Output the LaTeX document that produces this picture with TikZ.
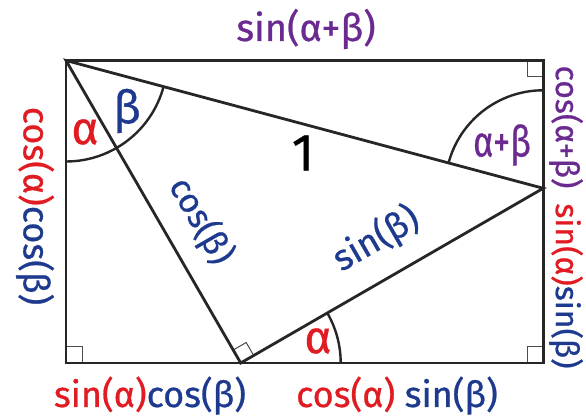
\documentclass[tikz,border=0pt]{standalone}
\usepackage{fontspec}
\setmainfont{Fira Sans}[FakeBold=0.7]
\definecolor{tred}{HTML}{E01B22}
\definecolor{tblue}{HTML}{1D3A8F}
\definecolor{tpurple}{HTML}{6A2A90}
\newcommand{\fs}[1]{\fontsize{#1}{#1}\selectfont}
\begin{document}
\begin{tikzpicture}[x=1pt,y=1pt,
  edge/.style={line width=2.8pt, draw=black!85, line join=miter},
  arcline/.style={line width=2.4pt, draw=black!85},
  rmark/.style={line width=1pt, draw=black!70},
  lbl/.style={inner sep=0pt, font=\bfseries}]
\useasboundingbox (0,0) rectangle (586,419);
\fill[white] (0,0) rectangle (586,419);
% corners
\coordinate (A) at (66,358.5);
\coordinate (TR) at (543.2,358.5);
\coordinate (BR) at (543.2,56);
\coordinate (BL) at (66,56);
\coordinate (B) at (240.7,56);
\coordinate (C) at (543.2,230.7);
% right-angle marks
\draw[rmark] (BL) ++(0,16) -- ++(16,0) -- ++(0,-16);
\draw[rmark] (BR) ++(0,16) -- ++(-16,0) -- ++(0,-16);
\draw[rmark] (TR) ++(0,-16) -- ++(-16,0) -- ++(0,16);
\draw[rmark] (B) ++(30:15) -- ++(120:15) -- ++(210:15);
% arcs
\draw[arcline] (A) ++(-90:101) arc[start angle=-90, end angle=-15, radius=101];
\draw[arcline] (B) ++(0:100) arc[start angle=0, end angle=30, radius=100];
\draw[arcline] (C) ++(90:98) arc[start angle=90, end angle=165, radius=98];
% rectangle and triangle
\draw[edge] (A) -- (TR) -- (BR) -- (BL) -- cycle;
\draw[edge] (A) -- (C) -- (B) -- cycle;
% outer labels
\node[lbl, font=\fs{38}, text=tpurple] (top) at (306,390) {sin(α+β)};
\node[lbl, font=\fs{36}, rotate=-90] (left) at (35,213) {\textcolor{tred}{cos(α)}\textcolor{tblue}{cos(β)}};
\node[lbl, font=\fs{32}, rotate=-90, text=tpurple] (rtop) at (566,292) {cos(α+β)};
\node[lbl, font=\fs{32}, rotate=-90] (rbot) at (566,133) {\textcolor{tred}{sin(α)}\textcolor{tblue}{sin(β)}};
\node[lbl, font=\fs{36}, anchor=base] (bl) at (150,12) {\textcolor{tred}{sin(α)}\textcolor{tblue}{cos(β)}};
\node[lbl, font=\fs{36}, anchor=base] (br) at (397,12) {\textcolor{tred}{cos(α)} \textcolor{tblue}{sin(β)}};
% inner labels
\node[lbl, font=\fs{46}, text=tred] (aA) at (85,287) {α};
\node[lbl, font=\fs{46}, text=tblue] (bA) at (127,308) {β};
\node[lbl, font=\fs{52}] (one) at (303,266) {1};
\node[lbl, font=\fs{34}, text=tblue, rotate=-60] (cb) at (201,198) {cos(β)};
\node[lbl, font=\fs{36}, text=tblue, rotate=30] (sb) at (376,180) {sin(β)};
\node[lbl, font=\fs{46}, text=tred] (aB) at (318,78) {α};
\node[lbl, font=\fs{43}, text=tpurple, xscale=0.8] (ab) at (502,274) {α+β};
\end{tikzpicture}
\end{document}
